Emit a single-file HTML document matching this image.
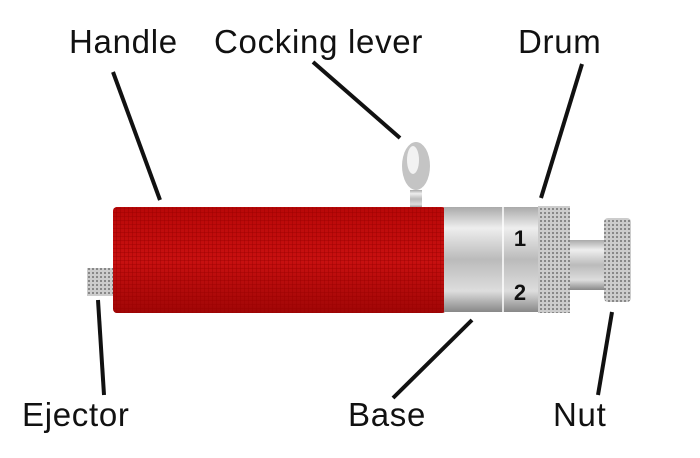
<!DOCTYPE html><html><head><style>
body{margin:0;width:700px;height:458px;background:#fff;overflow:hidden;position:relative;font-family:"Liberation Sans",sans-serif}
.t{position:absolute;font-size:33px;letter-spacing:0.7px;color:#111;line-height:1}
</style></head><body>
<div class="t" style="left:69px;top:25px">Handle</div>
<div class="t" style="left:214px;top:25px">Cocking lever</div>
<div class="t" style="left:518px;top:25px">Drum</div>
<div class="t" style="left:22px;top:398px">Ejector</div>
<div class="t" style="left:348px;top:398px">Base</div>
<div class="t" style="left:553px;top:398px">Nut</div>
<svg width="700" height="458" style="position:absolute;left:0;top:0">
<defs>
<linearGradient id="r" x1="0" y1="0" x2="0" y2="1"><stop offset="0" stop-color="#b80808"/><stop offset=".5" stop-color="#c81010"/><stop offset="1" stop-color="#a00606"/></linearGradient>
<linearGradient id="s" x1="0" y1="0" x2="0" y2="1"><stop offset="0" stop-color="#aaa"/><stop offset=".2" stop-color="#eee"/><stop offset=".5" stop-color="#bbb"/><stop offset=".8" stop-color="#ddd"/><stop offset="1" stop-color="#888"/></linearGradient>
<pattern id="k" width="4" height="4" patternUnits="userSpaceOnUse"><rect width="4" height="4" fill="#ccc"/><rect width="2" height="2" fill="#888"/></pattern>
<pattern id="rk" width="4" height="4" patternUnits="userSpaceOnUse"><rect width="4" height="4" fill="none"/><rect width="1" height="4" fill="#900" opacity=".4"/><rect width="4" height="1" fill="#900" opacity=".4"/></pattern>
</defs>
<g stroke="#111" stroke-width="4">
<line x1="113" y1="72" x2="160" y2="200"/>
<line x1="313" y1="62" x2="400" y2="138"/>
<line x1="582" y1="64" x2="541" y2="198"/>
<line x1="98" y1="300" x2="104" y2="395"/>
<line x1="472" y1="320" x2="393" y2="398"/>
<line x1="612" y1="312" x2="598" y2="395"/>
</g>
<rect x="87" y="268" width="26" height="28" fill="url(#k)"/>
<rect x="410" y="190" width="12" height="18" fill="url(#s)"/>
<ellipse cx="416" cy="166" rx="14" ry="24" fill="#c4c4c4"/>
<ellipse cx="413" cy="160" rx="6" ry="14" fill="#f2f2f2"/>
<rect x="113" y="207" width="333" height="106" rx="4" fill="url(#r)"/>
<rect x="113" y="207" width="333" height="106" rx="4" fill="url(#rk)"/>
<rect x="444" y="207" width="95" height="105" fill="url(#s)"/>
<line x1="503" y1="207" x2="503" y2="312" stroke="#fff" stroke-width="1.5"/>
<text x="520" y="246" font-size="22" font-weight="bold" font-family="Liberation Sans" text-anchor="middle" fill="#111">1</text>
<text x="520" y="300" font-size="22" font-weight="bold" font-family="Liberation Sans" text-anchor="middle" fill="#111">2</text>
<rect x="538" y="206" width="32" height="107" fill="url(#k)"/>
<rect x="570" y="240" width="36" height="50" fill="url(#s)"/>
<rect x="604" y="218" width="27" height="84" rx="4" fill="url(#k)"/>
</svg>
</body></html>
